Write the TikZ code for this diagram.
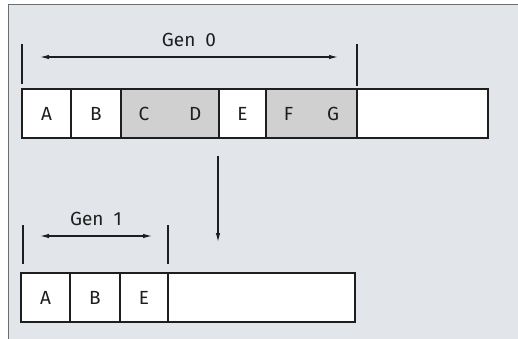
\documentclass[tikz,border=0pt]{standalone}
\usepackage{fontspec}
\setmainfont{Fira Sans}
\usetikzlibrary{arrows.meta,positioning}
\definecolor{cBack}{RGB}{226,229,234}
\definecolor{cFrame}{RGB}{110,110,110}
\definecolor{cShade}{RGB}{208,208,208}
\definecolor{cLine}{RGB}{30,30,30}

\tikzset{
  cell/.style={draw=cLine, line width=1.3pt, fill=white, minimum height=49pt,
    inner sep=0pt, outer sep=0pt, font=\fontsize{19}{22}\selectfont, text=cLine},
  shadecell/.style={cell, fill=cShade},
  tickmark/.style={line width=1.6pt, cLine},
  span/.style={line width=1.1pt, cLine,
    {Latex[length=9pt,width=4.5pt]}-{Latex[length=9pt,width=4.5pt]}},
  genlabel/.style={font=\fontsize{19}{22}\selectfont, text=cLine},
}

\begin{document}
\begin{tikzpicture}[x=1pt, y=-1pt]
  \useasboundingbox (0,0) rectangle (518,339);
  % Panel
  \fill[cBack] (8,5) rectangle (518,339);
  \draw[cFrame, line width=1pt] (8,339) -- (8,5) -- (518,5);
  % Generation 0
  \node[cell, minimum width=49pt] (a0) at (46.5,113.5) {A};
  \node[cell, minimum width=50pt, right=0pt of a0] (b0) {B};
  \node[shadecell, minimum width=98pt, right=0pt of b0] (cd0) {C\hspace{40pt}D};
  \node[cell, minimum width=47pt, right=0pt of cd0] (e0) {E};
  \node[shadecell, minimum width=91pt, right=0pt of e0] (fg0) {F\hspace{34pt}G};
  \node[cell, minimum width=131pt, right=0pt of fg0] (free0) {};
  \draw[tickmark] ([yshift=5pt]a0.north west) -- ++(0,-40);
  \draw[tickmark] ([yshift=3pt]fg0.north east) -- ++(0,-42);
  \coordinate (g0l) at (40,57);
  \coordinate (g0r) at (338,57);
  \draw[span] (g0l) -- (g0r) node[midway, above=6pt, genlabel] {Gen\ \ 0};
  % Compaction
  \coordinate (down0) at (218,156);
  \coordinate (down1) at (218,242);
  \draw[line width=1.1pt, cLine, -{Latex[length=9pt,width=4.5pt]}] (down0) -- (down1);
  % Generation 1
  \node[cell, minimum width=49pt] (a1) at (45.5,297.5) {A};
  \node[cell, minimum width=50pt, right=0pt of a1] (b1) {B};
  \node[cell, minimum width=48pt, right=0pt of b1] (e1) {E};
  \node[cell, minimum width=187pt, right=0pt of e1] (free1) {};
  \draw[tickmark] ([xshift=2pt,yshift=9pt]a1.north west) -- ++(0,-39);
  \draw[tickmark] ([yshift=9pt]e1.north east) -- ++(0,-39);
  \coordinate (g1l) at (40,236);
  \coordinate (g1r) at (152,236);
  \draw[span] (g1l) -- (g1r) node[midway, above=6pt, genlabel] {Gen\ \ 1};
\end{tikzpicture}
\end{document}
